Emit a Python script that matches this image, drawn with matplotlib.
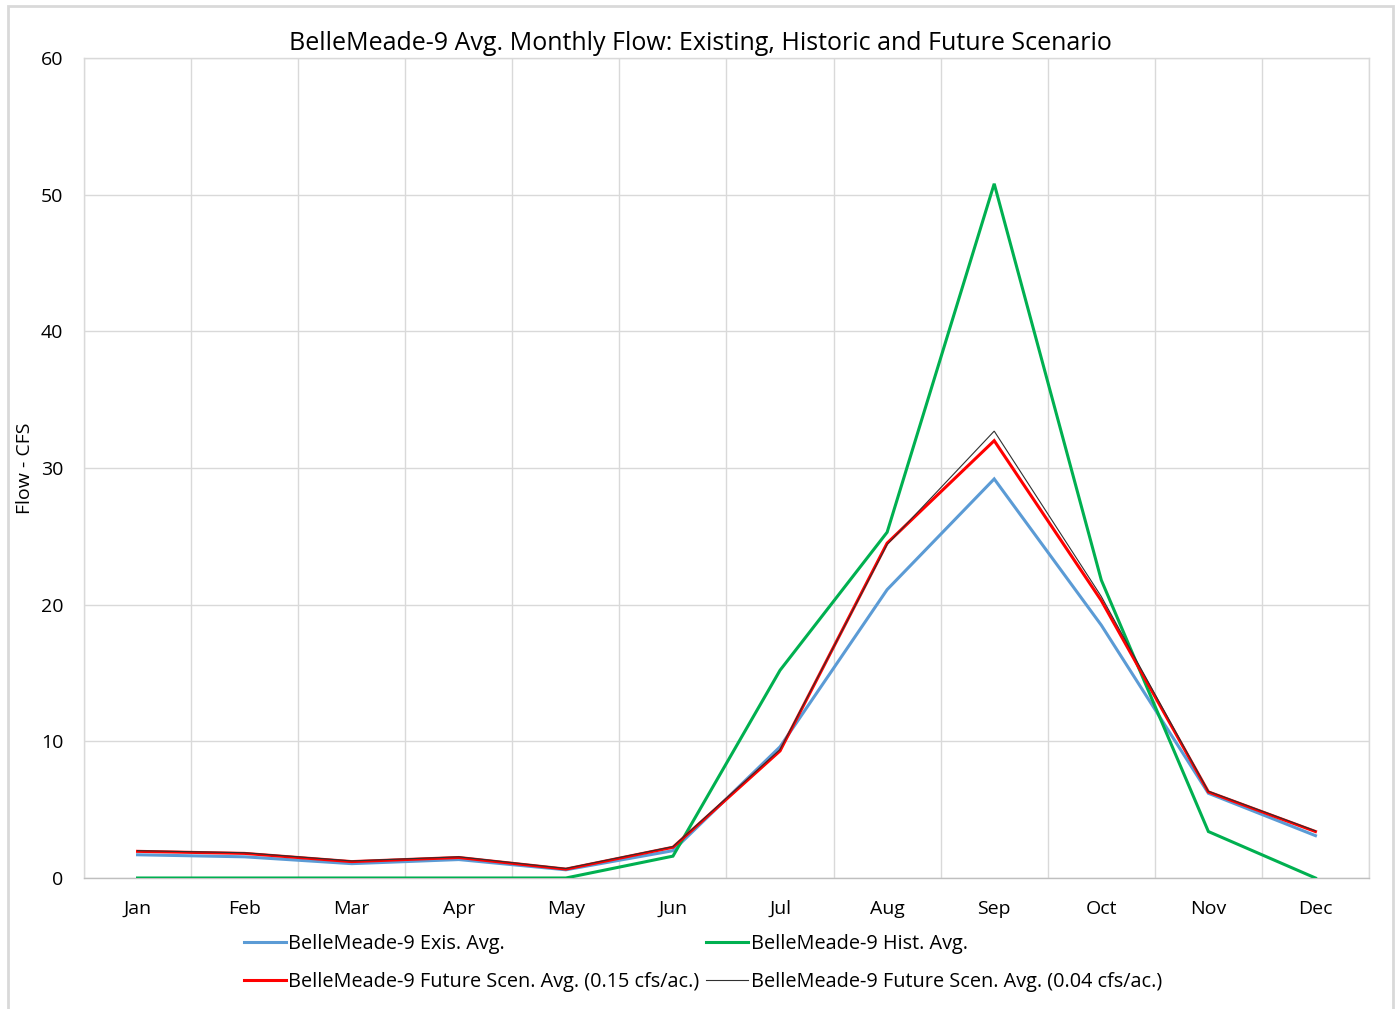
import matplotlib
matplotlib.use("Agg")
import matplotlib.pyplot as plt
from matplotlib.patches import Rectangle
from matplotlib.lines import Line2D

plt.rcParams['font.family'] = ['Open Sans', 'DejaVu Sans']

months = ["Jan", "Feb", "Mar", "Apr", "May", "Jun",
          "Jul", "Aug", "Sep", "Oct", "Nov", "Dec"]
exis_avg = [1.7, 1.55, 1.05, 1.35, 0.6, 2.0, 9.6, 21.1, 29.2, 18.5, 6.2, 3.1]
hist_avg = [0.0, 0.0, 0.0, 0.0, 0.0, 1.6, 15.2, 25.3, 50.8, 21.8, 3.4, 0.0]
future_015 = [1.95, 1.8, 1.2, 1.5, 0.65, 2.25, 9.3, 24.5, 32.0, 20.3, 6.3, 3.4]
future_004 = [2.0, 1.85, 1.25, 1.55, 0.7, 2.3, 9.4, 24.4, 32.7, 20.6, 6.35, 3.45]
y_ticks = [0, 10, 20, 30, 40, 50, 60]

labels = ["BelleMeade-9 Exis. Avg.",
          "BelleMeade-9 Hist. Avg.",
          "BelleMeade-9 Future Scen. Avg. (0.15 cfs/ac.)",
          "BelleMeade-9 Future Scen. Avg. (0.04 cfs/ac.)"]
colors = ["#5B9BD5", "#00B050", "#FF0000", "#303030"]
widths = [2.2, 2.2, 2.2, 0.8]

fig = plt.figure(figsize=(13.98, 10.09), dpi=100)
ax = fig.add_axes([84 / 1398, 1 - 878 / 1009, (1369 - 84) / 1398, (878 - 58) / 1009])

x = list(range(len(months)))
series = [exis_avg, hist_avg, future_015, future_004]
for vals, c, lw, lab, z in zip(series, colors, widths, labels, [3, 3, 4, 5]):
    ax.plot(x, vals, color=c, lw=lw, label=lab, zorder=z, solid_joinstyle='miter')

ax.set_xlim(-0.5, len(months) - 0.5)
ax.set_ylim(0, 60)
ax.set_yticks(y_ticks)
ax.set_xticks(x)
ax.set_xticklabels(months)
ax.set_xticks([i + 0.5 for i in range(-1, len(months))], minor=True)
ax.grid(True, which='minor', axis='x', color='#d9d9d9', lw=1)
ax.grid(True, which='major', axis='y', color='#d9d9d9', lw=1)
ax.tick_params(axis='both', which='both', length=0, labelsize=14, colors='#000000')
ax.tick_params(axis='x', pad=16)
ax.tick_params(axis='y', pad=15)
for s in ax.spines.values():
    s.set_color('#d9d9d9')
    s.set_linewidth(1)
ax.spines['bottom'].set_color('#bfbfbf')

fig.text(25 / 1398, 1 - 468 / 1009, "Flow - CFS", rotation=90, fontsize=14,
         ha='center', va='center')
fig.text(700 / 1398, 1 - 43 / 1009,
         "BelleMeade-9 Avg. Monthly Flow: Existing, Historic and Future Scenario",
         fontsize=18, ha='center', va='center')

# legend filled column by column: reorder so rows read Exis/Hist, then the two futures
order = [0, 2, 1, 3]
handles = [Line2D([], [], color=colors[i], lw=widths[i]) for i in order]
fig.legend(handles, [labels[i] for i in order], ncol=2, loc='center',
           bbox_to_anchor=(703 / 1398, 1 - 963 / 1009),
           frameon=False, fontsize=14.3, handlelength=2.1, handletextpad=0.12,
           columnspacing=0.35, labelspacing=0.95)

fig.patches.append(Rectangle((8 / 1398, -0.1), (1393 - 8) / 1398, 1.1 - 6 / 1009,
                             transform=fig.transFigure, fill=False,
                             edgecolor='#d9d9d9', lw=2))

fig.savefig("out.png", dpi=100)
